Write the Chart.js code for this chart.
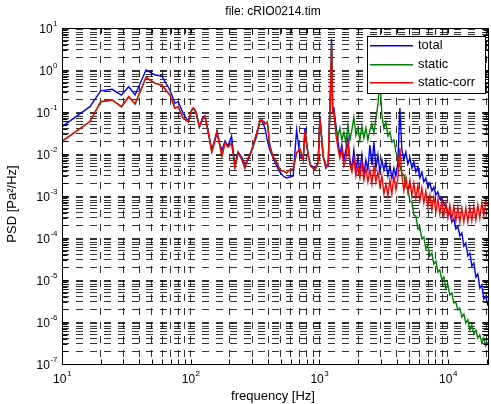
<!DOCTYPE html>
<html lang="en">
<head>
    <meta charset="UTF-8">
    <title>PSD cRIO0214</title>
    <script src="https://cdn.jsdelivr.net/npm/chart.js"></script>
    <style>
        html, body {
            margin: 0;
            padding: 0;
            background: #fff;
        }
        #psd {
            display: block;
        }
    </style>
</head>
<body>
    <canvas id="psd" width="491" height="404"></canvas>

    <script>
        // frequency bins [Hz]
        const freq = [
            10, 16.5, 20, 24.5, 29, 33, 37, 45, 53, 59.5,
            69, 75.5, 80, 87.5, 96, 102, 105, 110, 117, 124,
            129, 137, 146, 155, 160, 169, 175, 185, 195, 208,
            221, 234, 249, 264, 280, 298, 326, 346, 358, 378,
            394, 413, 438, 466, 494, 524, 557, 591, 627, 666,
            707, 750, 773, 820, 855, 925, 980, 1011, 1072, 1125,
            1172, 1220, 1246, 1270,
            1299, 1346, 1395, 1445, 1498, 1553, 1609, 1668, 1729, 1792,
            1857, 1925, 1995, 2068, 2143, 2221, 2302, 2386, 2474, 2564,
            2657, 2754, 2854, 2958, 3066, 3177, 3293, 3413, 3537, 3666,
            3800, 3938, 4082, 4230, 4384, 4544, 4710, 4881, 5058, 5243,
            5433, 5631, 5836, 6049, 6269, 6497, 6734, 6979, 7233, 7497,
            7770, 8053, 8346, 8650, 8965, 9292, 9630, 9981, 10345, 10721,
            11112, 11517, 11936, 12371, 12822, 13289, 13773, 14275, 14795, 15334,
            15893, 16472, 17072, 17694, 18339, 19007, 19700, 20480
        ];

        // PSD [Pa^2/Hz]
        const total = [
            0.045, 0.134, 0.32, 0.347, 0.254, 0.40, 0.254, 1.0, 0.76, 0.72,
            0.334, 0.161, 0.176, 0.093, 0.059, 0.112, 0.125, 0.10, 0.044, 0.076,
            0.080, 0.0334, 0.0125, 0.024, 0.0353, 0.0164, 0.0125, 0.0204, 0.0155, 0.0268,
            0.00518, 0.0112, 0.00848, 0.00578, 0.0072, 0.0118, 0.0268, 0.0645, 0.0611, 0.0416,
            0.0215, 0.0125, 0.00803, 0.00518, 0.00373, 0.00299, 0.00268, 0.00283, 0.00299, 0.0373,
            0.00896, 0.0072, 0.0416, 0.00896, 0.00547, 0.00464, 0.00611, 0.0803, 0.00848, 0.00547,
            0.00518, 0.30, 5.5, 0.12,
            0.125, 0.049, 0.0215, 0.00947, 0.0164, 0.0072, 0.0125, 0.024, 0.0072, 0.00464,
            0.0125, 0.00416, 0.00803, 0.00373, 0.00947, 0.00334, 0.0072, 0.00416, 0.0164, 0.00547,
            0.0193, 0.00464, 0.00947, 0.00373, 0.0072, 0.00416, 0.00645, 0.00299, 0.00518, 0.00268,
            0.00464, 0.00299, 0.00645, 0.125, 0.0125, 0.0072, 0.0112, 0.00578, 0.00803, 0.00464,
            0.00645, 0.00373, 0.0049, 0.00268, 0.00373, 0.00215, 0.00268, 0.00164, 0.00204, 0.00132,
            0.00164, 0.00106, 0.00125, 0.000848, 0.000896, 0.000645, 0.000611, 0.000416, 0.000394, 0.00024,
            0.000283, 0.000164, 0.000193, 0.000112, 0.000132, 0.0000645, 0.000076, 0.0000373, 0.0000439, 0.0000215,
            0.0000254, 0.0000118, 0.0000139, 0.00000645, 0.0000076, 0.00000353, 0.00000416, 0.0000024
        ];

        const staticPsd = [
            0.020, 0.059, 0.176, 0.193, 0.134, 0.231, 0.155, 0.67, 0.48, 0.44,
            0.254, 0.123, 0.134, 0.071, 0.059, 0.112, 0.125, 0.10, 0.044, 0.068,
            0.080, 0.0334, 0.0112, 0.0215, 0.0334, 0.0155, 0.00896, 0.0183, 0.0147, 0.0183,
            0.0049, 0.0106, 0.0076, 0.00464, 0.00803, 0.0125, 0.0316, 0.0611, 0.0645, 0.0518,
            0.0578, 0.0155, 0.00848, 0.00645, 0.00416, 0.00394, 0.00353, 0.00416, 0.00439, 0.0106,
            0.0132, 0.0072, 0.0353, 0.00947, 0.00518, 0.00416, 0.00611, 0.072, 0.00896, 0.00464,
            0.00547, 0.28, 4.5, 0.11,
            0.1, 0.0373, 0.0254, 0.0416, 0.0215, 0.0334, 0.0183, 0.049, 0.0215, 0.0373,
            0.076, 0.0283, 0.0416, 0.0215, 0.0464, 0.024, 0.0416, 0.0215, 0.0373, 0.0518,
            0.0316, 0.072, 0.147, 0.6, 0.0848, 0.0416, 0.0578, 0.0268, 0.0334, 0.0193,
            0.0215, 0.0112, 0.00803, 0.00518, 0.00353, 0.00316, 0.00164, 0.00147, 0.00076, 0.00072,
            0.000353, 0.000334, 0.000164, 0.000183, 0.0000947, 0.000106, 0.0000547, 0.0000681, 0.0000373, 0.0000439,
            0.000024, 0.0000283, 0.0000155, 0.0000173, 0.00001, 0.0000118, 0.00000611, 0.0000076, 0.00000439, 0.0000049,
            0.00000283, 0.00000299, 0.00000193, 0.00000215, 0.00000132, 0.00000155, 9.47e-7, 0.00000112, 6.45e-7, 8.48e-7,
            5.18e-7, 6.45e-7, 4.16e-7, 4.9e-7, 3.16e-7, 4.16e-7, 2.68e-7, 3.34e-7
        ];

        const staticCorr = [
            0.020, 0.059, 0.176, 0.193, 0.134, 0.231, 0.155, 0.67, 0.48, 0.44,
            0.254, 0.123, 0.134, 0.071, 0.059, 0.112, 0.125, 0.10, 0.044, 0.068,
            0.080, 0.0334, 0.0112, 0.0215, 0.0334, 0.0155, 0.00896, 0.0183, 0.0147, 0.0183,
            0.0049, 0.0106, 0.0076, 0.00464, 0.00803, 0.0125, 0.0316, 0.0611, 0.0645, 0.0518,
            0.0578, 0.0155, 0.00848, 0.00645, 0.00416, 0.00394, 0.00353, 0.00416, 0.00439, 0.0106,
            0.0132, 0.0072, 0.0353, 0.00947, 0.00518, 0.00416, 0.00611, 0.072, 0.00896, 0.00464,
            0.00547, 0.25, 3.8, 0.10,
            0.1, 0.0283, 0.0139, 0.00803, 0.0125, 0.00518, 0.0072, 0.0215, 0.00547, 0.00373,
            0.00803, 0.00299, 0.00547, 0.00268, 0.00645, 0.0024, 0.00464, 0.00215, 0.00416, 0.00193,
            0.00518, 0.00215, 0.00373, 0.00173, 0.00299, 0.00112, 0.00193, 0.001, 0.0024, 0.00112,
            0.00299, 0.00139, 0.00268, 0.0139, 0.00299, 0.00132, 0.00283, 0.00125, 0.0024, 0.001,
            0.00204, 0.000896, 0.00183, 0.00076, 0.00155, 0.000681, 0.00132, 0.000547, 0.00106, 0.000464,
            0.000947, 0.000416, 0.000848, 0.000373, 0.00076, 0.000334, 0.000681, 0.000299, 0.000611, 0.000268,
            0.000578, 0.000254, 0.000547, 0.00024, 0.000518, 0.00024, 0.000518, 0.00024, 0.000547, 0.000254,
            0.000578, 0.000268, 0.000611, 0.000299, 0.000681, 0.000334, 0.00076, 0.000547
        ];

        const seriesNames = ['total', 'static', 'static-corr'];
        const seriesColors = ['#0000ff', '#008000', '#ff0000'];

        // decades that get a 10^n label
        const xExponents = [1, 2, 3, 4];
        const yExponents = [1, 0, -1, -2, -3, -4, -5, -6, -7];

        const FONT = '"Liberation Sans", Arial, Helvetica, sans-serif';

        // 1..9 x 10^n grid positions
        function logGrid(exps, top) {
            const out = [];
            exps.slice().sort((a, b) => a - b).forEach(e => {
                for (let m = 1; m <= 9; m++) {
                    const v = m * Math.pow(10, e);
                    if (v <= top) out.push(v);
                }
            });
            return out;
        }
        const xGrid = logGrid(xExponents, 20480);
        const yGrid = logGrid(yExponents, 10);

        const points = arr => freq.map((f, i) => ({ x: f, y: arr[i] }));

        // superscript power-of-ten label
        function drawPow(ctx, exp, x, y, align) {
            ctx.font = '12px ' + FONT;
            const wBase = ctx.measureText('10').width;
            ctx.font = '8px ' + FONT;
            const sup = String(exp);
            const wSup = ctx.measureText(sup).width;
            const left = align === 'right' ? x - wBase - wSup : x - (wBase + wSup) / 2;
            ctx.textAlign = 'left';
            ctx.textBaseline = 'middle';
            ctx.font = '12px ' + FONT;
            ctx.fillText('10', left, y);
            ctx.font = '8px ' + FONT;
            ctx.fillText(sup, left + wBase + 0.5, y - 6);
        }

        const axesBox = {
            id: 'axesBox',
            beforeDraw(chart) {
                const c = chart.ctx;
                c.save();
                c.fillStyle = '#fff';
                c.fillRect(0, 0, chart.width, chart.height);
                c.restore();
            },
            afterDatasetsDraw(chart) {
                const { ctx, chartArea: a, scales: { x, y } } = chart;
                ctx.save();
                ctx.strokeStyle = '#000';
                ctx.lineWidth = 1;
                ctx.setLineDash([]);
                const L = Math.round(a.left) + 0.5, R = Math.round(a.right) + 0.5;
                const T = Math.round(a.top) + 0.5, B = Math.round(a.bottom) + 0.5;
                ctx.strokeRect(L, T, R - L, B - T);

                // tick marks inside the box, all four sides
                const len = 5;
                ctx.beginPath();
                xGrid.forEach(v => {
                    const p = Math.round(x.getPixelForValue(v)) + 0.5;
                    ctx.moveTo(p, B); ctx.lineTo(p, B - len);
                    ctx.moveTo(p, T); ctx.lineTo(p, T + len);
                });
                yGrid.forEach(v => {
                    const p = Math.round(y.getPixelForValue(v)) + 0.5;
                    ctx.moveTo(L, p); ctx.lineTo(L + len, p);
                    ctx.moveTo(R, p); ctx.lineTo(R - len, p);
                });
                ctx.stroke();
                ctx.restore();
            },
            afterDraw(chart) {
                const { ctx, chartArea: a, scales: { x, y } } = chart;
                ctx.save();
                ctx.setLineDash([]);

                // legend box on top of everything
                const bx = 367, by = 36, bw = 118, bh = 57;
                ctx.fillStyle = '#fff';
                ctx.fillRect(bx, by, bw + 1, bh + 1);
                ctx.strokeStyle = '#000';
                ctx.lineWidth = 1;
                ctx.strokeRect(bx + 0.5, by + 0.5, bw, bh);
                ctx.font = '13px ' + FONT;
                ctx.textAlign = 'left';
                ctx.textBaseline = 'middle';
                seriesNames.forEach((name, i) => {
                    const ly = Math.round(by + 9 + i * 18.5);
                    ctx.fillStyle = seriesColors[i];
                    ctx.fillRect(370, ly, 43, 1.5);
                    ctx.fillStyle = '#000';
                    ctx.fillText(name, 418, ly + 0.5);
                });

                ctx.fillStyle = '#000';
                xExponents.forEach(e => {
                    drawPow(ctx, e, x.getPixelForValue(Math.pow(10, e)), a.bottom + 16, 'center');
                });
                yExponents.forEach(e => {
                    drawPow(ctx, e, a.left - 5, y.getPixelForValue(Math.pow(10, e)) + 2, 'right');
                });

                const cx = (a.left + a.right) / 2;
                ctx.textAlign = 'center';
                ctx.textBaseline = 'middle';
                ctx.font = '12px ' + FONT;
                ctx.fillText('file: cRIO0214.tim', cx - 2, 12);
                ctx.font = '13px ' + FONT;
                ctx.fillText('frequency [Hz]', cx - 2, 396);

                ctx.translate(12, (a.top + a.bottom) / 2 + 8);
                ctx.rotate(-Math.PI / 2);
                ctx.fillText('PSD [Pa\u00B2/Hz]', 0, 0);
                ctx.restore();
            }
        };

        const gridLook = {
            color: 'rgba(0, 0, 0, 0.8)',
            lineWidth: 1,
            drawTicks: false
        };

        new Chart(document.getElementById('psd'), {
            type: 'line',
            data: {
                datasets: [
                    { label: seriesNames[0], data: points(total), borderColor: seriesColors[0], order: 3 },
                    { label: seriesNames[1], data: points(staticPsd), borderColor: seriesColors[1], order: 2 },
                    { label: seriesNames[2], data: points(staticCorr), borderColor: seriesColors[2], order: 1 }
                ]
            },
            options: {
                responsive: false,
                animation: false,
                devicePixelRatio: 1,
                layout: { padding: { top: 28, right: 3, left: 0, bottom: 0 } },
                elements: {
                    point: { radius: 0 },
                    line: { borderWidth: 1.4, tension: 0 }
                },
                plugins: {
                    legend: { display: false },
                    tooltip: { enabled: false },
                    title: { display: false }
                },
                scales: {
                    x: {
                        type: 'logarithmic',
                        min: 10,
                        max: 20480,
                        afterBuildTicks: s => { s.ticks = xGrid.map(v => ({ value: v })); },
                        afterFit: s => { s.height = 40; },
                        ticks: { display: false },
                        grid: gridLook,
                        border: { display: false, dash: [7, 7] }
                    },
                    y: {
                        type: 'logarithmic',
                        min: 1e-7,
                        max: 10,
                        afterBuildTicks: s => { s.ticks = yGrid.map(v => ({ value: v })); },
                        afterFit: s => { s.width = 62; },
                        ticks: { display: false },
                        grid: gridLook,
                        border: { display: false, dash: [7, 7] }
                    }
                }
            },
            plugins: [axesBox]
        });
    </script>
</body>
</html>
